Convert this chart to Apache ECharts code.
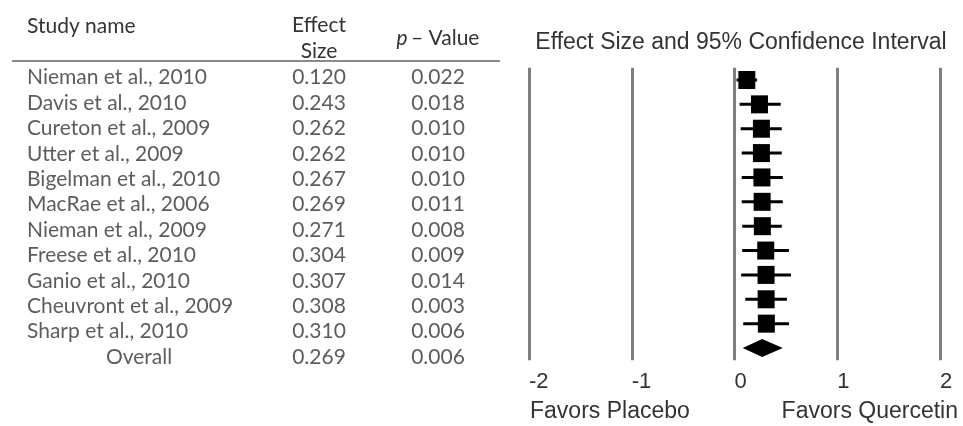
<!DOCTYPE html>
<html>
<head>
<meta charset="utf-8">
<script src="https://cdn.jsdelivr.net/npm/echarts@6/dist/echarts.min.js"></script>
<style>
html,body{margin:0;padding:0;background:#fff;}
#chart{width:963px;height:426px;}
</style>
</head>
<body>
<div id="chart"></div>
<script>
var studies = ['Nieman et al., 2010','Davis et al., 2010','Cureton et al., 2009','Utter et al., 2009','Bigelman et al., 2010','MacRae et al., 2006','Nieman et al., 2009','Freese et al., 2010','Ganio et al., 2010','Cheuvront et al., 2009','Sharp et al., 2010','Overall'];
var effectSizes = [0.120,0.243,0.262,0.262,0.267,0.269,0.271,0.304,0.307,0.308,0.310,0.269];
var pValues = [0.022,0.018,0.010,0.010,0.010,0.011,0.008,0.009,0.014,0.003,0.006,0.006];
var ciLower = [0.02,0.05,0.06,0.07,0.07,0.07,0.075,0.075,0.065,0.105,0.085,0.08];
var ciUpper = [0.22,0.45,0.46,0.46,0.47,0.47,0.46,0.53,0.55,0.51,0.53,0.47];
var xTicks = [-2,-1,0,1,2];

var TXT = '#333';
var TF = 'Lato';
var TS = 21;
var chart = echarts.init(document.getElementById('chart'));
var n = studies.length;
var last = n - 1;

var nameData = studies.map(function(s,i){
  if (i === last) return {value:[139, s], label:{align:'center'}};
  return [27, s];
});
var esData = studies.map(function(s,i){ return [319, s, effectSizes[i]]; });
var pData = studies.map(function(s,i){ return [438, s, pValues[i]]; });

function textSeries(data, fmt, align){
  return {
    type:'scatter', xAxisIndex:0, yAxisIndex:0, symbolSize:0, silent:true,
    data:data,
    label:{show:true, position:'inside', align:align, verticalAlign:'middle',
      fontFamily:TF, fontSize:TS, color:TXT, formatter:fmt}
  };
}

var option = {
  animation:false,
  grid:[
    {left:0, width:500, top:64.8, height:305},
    {left:529, right:23, top:67.8, height:292.4}
  ],
  xAxis:[
    {gridIndex:0, type:'value', min:0, max:500, show:false},
    {gridIndex:1, type:'value', min:-2, max:2, interval:1,
      axisLine:{show:false}, axisTick:{show:false},
      splitLine:{show:true, lineStyle:{color:'#808080', width:3}},
      axisLabel:{align:'left', margin:11, fontFamily:'Liberation Sans', fontSize:22, color:TXT,
        formatter:function(v){ return xTicks.indexOf(v) >= 0 ? String(v) : ''; }}
    }
  ],
  yAxis:[
    {gridIndex:0, type:'category', data:studies, inverse:true, show:false},
    {gridIndex:1, type:'category', data:studies, inverse:true, show:false}
  ],
  graphic:[
    {type:'text', x:27, y:26, style:{text:'Study name', font:TS+'px '+TF, fill:TXT, verticalAlign:'middle'}},
    {type:'text', x:319, y:25, style:{text:'Effect', font:TS+'px '+TF, fill:TXT, align:'center', verticalAlign:'middle'}},
    {type:'text', x:319, y:51, style:{text:'Size', font:TS+'px '+TF, fill:TXT, align:'center', verticalAlign:'middle'}},
    {type:'text', x:438, y:38, style:{
      rich:{i:{fontStyle:'italic', fontFamily:TF, fontSize:TS, fill:TXT}, r:{fontFamily:TF, fontSize:TS, fill:TXT}},
      text:'{i|p} {r|\u2013 Value}', align:'center', verticalAlign:'middle'}},
    {type:'line', shape:{x1:12, y1:61, x2:500, y2:61}, style:{stroke:'#8a8a8a', lineWidth:2}},
    {type:'text', x:741, y:43, style:{text:'Effect Size and 95% Confidence Interval', font:'23px Liberation Sans', fill:TXT, align:'center', verticalAlign:'middle'}},
    {type:'text', x:530, y:412, style:{text:'Favors Placebo', font:'23px Liberation Sans', fill:TXT, align:'left', verticalAlign:'middle'}},
    {type:'text', x:958, y:412, style:{text:'Favors Quercetin', font:'23px Liberation Sans', fill:TXT, align:'right', verticalAlign:'middle'}}
  ],
  series:[
    textSeries(nameData, function(p){ return p.value[1]; }, 'left'),
    textSeries(esData, function(p){ return p.value[2].toFixed(3); }, 'center'),
    textSeries(pData, function(p){ return p.value[2].toFixed(3); }, 'center'),
    {
      type:'custom', xAxisIndex:1, yAxisIndex:1, silent:true,
      data:studies.map(function(s,i){ return [ciLower[i], ciUpper[i], i, effectSizes[i]]; }),
      renderItem:function(params, api){
        var i = api.value(2);
        var a = api.coord([api.value(0), i]);
        var b = api.coord([api.value(1), i]);
        var c = api.coord([api.value(3), i]);
        if (i === last) {
          var h = 9;
          return {type:'polygon', shape:{points:[[a[0],a[1]],[c[0],c[1]-h],[b[0],b[1]],[c[0],c[1]+h]]},
            style:{fill:'#000'}};
        }
        return {type:'group', children:[
          {type:'line', shape:{x1:a[0], y1:a[1], x2:b[0], y2:b[1]}, style:{stroke:'#000', lineWidth:3}},
          {type:'rect', shape:{x:c[0]-8.5, y:c[1]-9, width:17, height:18}, style:{fill:'#000'}}
        ]};
      }
    }
  ]
};
chart.setOption(option);
</script>
</body>
</html>
